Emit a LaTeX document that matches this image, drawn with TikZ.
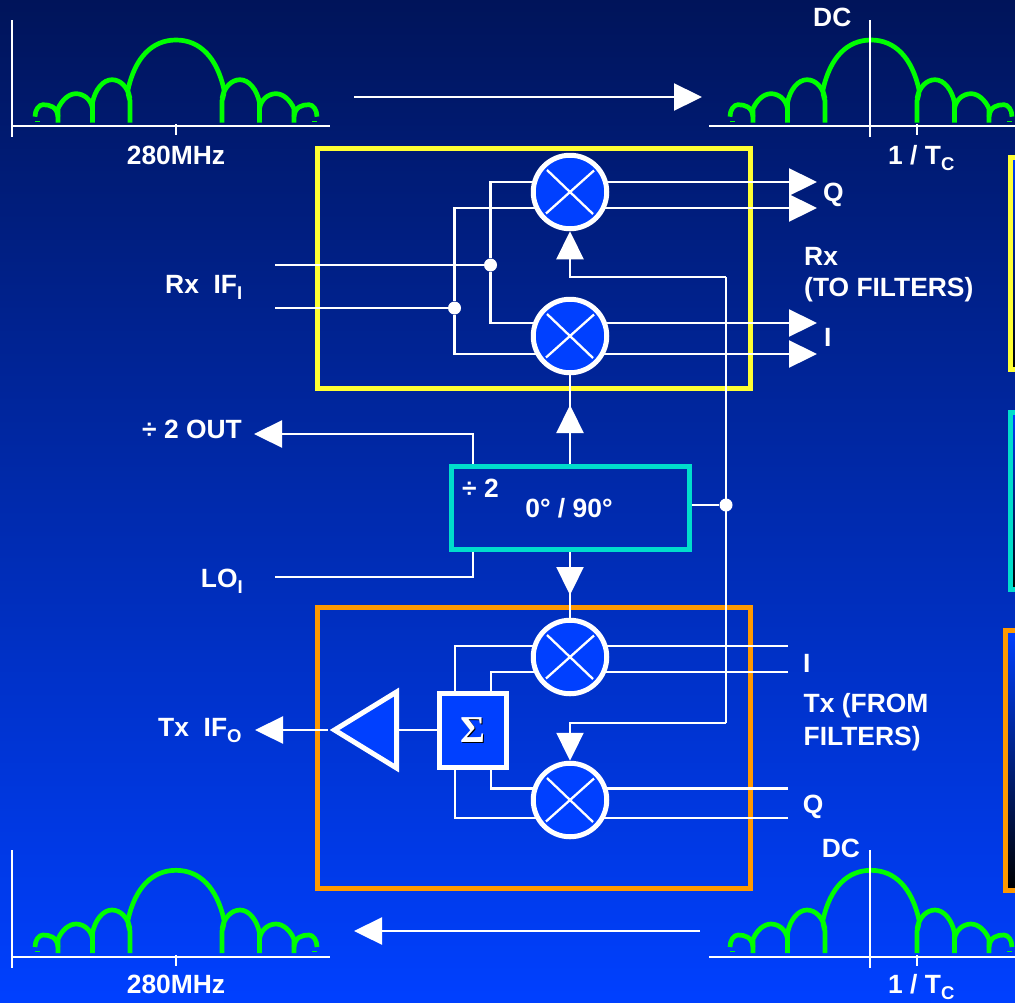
\documentclass[tikz,border=0pt]{standalone}
\usepackage{fontspec}
\setmainfont{Liberation Sans}
\newfontfamily\sigmafont{Liberation Serif}
\usetikzlibrary{arrows.meta,shapes.geometric,backgrounds}
\definecolor{bgtop}{HTML}{00145A}
\definecolor{bgbot}{HTML}{0040FF}
\definecolor{mixblue}{HTML}{0040FF}
\definecolor{fyellow}{HTML}{FFFF33}
\definecolor{forange}{HTML}{FF9900}
\definecolor{fcyan}{HTML}{00DDCC}
\definecolor{specgreen}{HTML}{00FF00}
\tikzset{
  wire/.style={draw=white,line width=2.3pt},
  arr/.style={wire,-{Triangle[length=28pt,width=27pt]}},
  frame/.style={draw=#1,line width=5pt,inner sep=0pt,fill=none,rectangle},
  mixer/.style={circle,draw=white,fill=mixblue,line width=5pt,minimum size=73.5pt,inner sep=0pt,
    path picture={
      \draw[white,line width=2.3pt] ([shift={(-23,-22)}]path picture bounding box.center) -- ([shift={(23,22)}]path picture bounding box.center);
      \draw[white,line width=2.3pt] ([shift={(24,-21.5)}]path picture bounding box.center) -- ([shift={(-24,21.5)}]path picture bounding box.center);
    }},
  jdot/.style={circle,fill=white,minimum size=13pt,inner sep=0pt},
  lab/.style={text=white,inner sep=0pt,anchor=base west,font=\fontsize{26.4}{32}\selectfont\bfseries},
  labc/.style={lab,anchor=base},
  spec/.style={draw=specgreen,line width=4.7pt,line join=round},
  axis/.style={draw=white,line width=2.3pt},
}
\newcommand{\sbs}[1]{\raisebox{-6.5pt}{\fontsize{18.5}{19}\selectfont #1}}
\newcommand{\spectrumhalf}{%
  \draw[spec] (-46,0) -- (-46,-22) .. controls (-48,-28) and (-48,-30) .. (-48,-33)
     .. controls (-41,-65) and (-24,-82.7) .. (0,-82.7);
  \draw[spec] (-83.5,0) -- (-83.5,-20) .. controls (-81,-33) and (-73,-43) .. (-64,-43)
     .. controls (-56,-43) and (-48,-36) .. (-46,-24);
  \draw[spec] (-118,0) -- (-118,-14) .. controls (-114,-23) and (-107,-29) .. (-100,-29)
     .. controls (-93,-29) and (-85,-24) .. (-83.5,-14);
  \draw[spec] (-141,-6) .. controls (-141,-13) and (-137,-18) .. (-133,-18)
     .. controls (-126,-18) and (-119,-16) .. (-118,-6);
  \draw[draw=specgreen,line width=1pt] (-141,-1.7) -- (-136,-1.7);
}
\newcommand{\spectrum}[2]{%
  \begin{scope}[shift={(#1,#2)}]\spectrumhalf\end{scope}%
  \begin{scope}[shift={(#1,#2)},xscale=-1]\spectrumhalf\end{scope}%
}
\begin{document}
\begin{tikzpicture}[x=1pt,y=-1pt]
\useasboundingbox (0,0) rectangle (1015,1002);

% main-layer nodes
\node[mixer] (m1) at (570,192) {};
\node[mixer] (m2) at (570,336) {};
\node[mixer] (m3) at (570,657) {};
\node[mixer] (m4) at (570,800) {};
\node[rectangle,draw=white,fill=mixblue,line width=5pt,minimum width=67pt,minimum height=74pt,inner sep=0pt] (sum) at (473,730.5)
  {\fontsize{38}{38}\selectfont\sigmafont\bfseries\textcolor{white}{\rlap{\kern1pt\raisebox{-1pt}{\textcolor{black}{Σ}}}Σ}};
\node[isosceles triangle,isosceles triangle stretches,shape border rotate=180,draw=white,fill=mixblue,
  line width=5pt,minimum width=76pt,minimum height=62pt,inner sep=0pt,anchor=apex] (amp) at (328,730) {};
\node[jdot] (dotA) at (490.5,265) {};
\node[jdot] (dotB) at (454.5,308) {};
\node[jdot] (dotC) at (726,505) {};

\coordinate (inA) at (275,265);
\coordinate (inB) at (275,308);
\coordinate (inLO) at (275,577);
\coordinate (tQa) at (817,182);
\coordinate (tQb) at (817,208);
\coordinate (tIa) at (817,323);
\coordinate (tIb) at (817,354);
\coordinate (fU) at (726,277);
\coordinate (fD) at (726,723);
\coordinate (upTip) at (570,405);
\coordinate (dnTip) at (570,595);
\coordinate (oT) at (473,434);
\coordinate (tipOut) at (254,434);
\coordinate (tipTx) at (255,730);
\coordinate (cIa) at (788,646);
\coordinate (cIb) at (788,672);
\coordinate (cQa) at (788,788.5);
\coordinate (cQb) at (788,818);
\coordinate (xa) at (455,730);
\coordinate (xb) at (491,730);
\coordinate (spTopA) at (354,97);
\coordinate (spTopB) at (702,97);
\coordinate (spBotA) at (700,931);
\coordinate (spBotB) at (354,931);

\begin{scope}[on background layer]
  \shade[top color=bgtop,bottom color=bgbot] (0,0) rectangle (1015,1002);
  % frames
  \node[frame=fyellow,minimum width=433pt,minimum height=240pt] (rxbox) at (533.5,268.5) {};
  \node[frame=forange,minimum width=433pt,minimum height=281pt] (txbox) at (533.5,747.5) {};
  % partially visible panels at the right edge
  \begin{scope}
    \clip (0,0) rectangle (1015,1002);
    \shade[top color=mixblue,bottom color=black] (1010.5,157) rectangle (1040,369.5);
    \draw[fyellow,line width=5pt] (1010.5,157) rectangle (1040,369.5);
    \shade[top color=mixblue,bottom color=black] (1010.5,412.5) rectangle (1040,589);
    \draw[fcyan,line width=5pt] (1010.5,412.5) rectangle (1040,589);
    \shade[top color=mixblue,bottom color=black] (1005.5,630.5) rectangle (1040,890);
    \draw[forange,line width=5pt] (1005.5,630.5) rectangle (1040,890);
  \end{scope}
  \node[frame=fcyan,minimum width=238pt,minimum height=83.5pt] (div) at (570,507.75) {};
  % wires
  \draw[wire] (inA) -- (dotA);
  \draw[wire] (inB) -- (dotB);
  \draw[wire] (m1 |- tQa) -| (dotA) |- (m2 |- tIa);
  \draw[wire] (m1 |- tQb) -| (dotB) |- (m2 |- tIb);
  \draw[arr] (m1 |- tQa) -- (tQa);
  \draw[arr] (m1 |- tQb) -- (tQb);
  \draw[arr] (m2 |- tIa) -- (tIa);
  \draw[arr] (m2 |- tIb) -- (tIb);
  \draw[wire] (fU) -- (fD);
  \draw[wire] (div.east |- dotC) -- (dotC);
  \draw[arr] (fU) -- (fU -| m1) -- (m1.south);
  \draw[arr] (fD) -- (fD -| m4) -- (m4.north);
  \draw[wire] (div.north) -- (m2.south);
  \draw[arr] (div.north) -- (upTip);
  \draw[wire] (div.south) -- (m3.north);
  \draw[arr] (div.south) -- (dnTip);
  \draw[arr] (oT |- div.north) -- (oT) -- (tipOut);
  \draw[wire] (inLO) -| (oT |- div.south);
  \draw[wire] (cIa) -- (xa |- cIa) -- (xa |- sum.north);
  \draw[wire] (cIb) -- (xb |- cIb) -- (xb |- sum.north);
  \draw[wire] (cQa) -- (xb |- cQa) -- (xb |- sum.south);
  \draw[wire] (cQb) -- (xa |- cQb) -- (xa |- sum.south);
  \draw[wire] (sum.west |- amp) -- (amp);
  \draw[arr] (amp.apex) -- (tipTx);
  \draw[arr] (spTopA) -- (spTopB);
  \draw[arr] (spBotA) -- (spBotB);
\end{scope}

% spectra
\spectrum{176}{122.7}
\spectrum{871}{122.7}
\spectrum{176}{953}
\spectrum{871}{953}
\draw[axis] (12,20) -- (12,137);
\draw[axis] (13,126) -- (330,126);
\draw[axis] (176,124) -- (176,135);
\draw[axis] (870,20) -- (870,137);
\draw[axis] (709,126) -- (1015,126);
\draw[axis] (917,124) -- (917,135);
\draw[axis] (12,850) -- (12,968);
\draw[axis] (13,957) -- (330,957);
\draw[axis] (176,955) -- (176,966);
\draw[axis] (870,850) -- (870,968);
\draw[axis] (709,957) -- (1015,957);
\draw[axis] (917,955) -- (917,966);

% labels
\node[labc] (l280a) at (176,164) {280MHz};
\node[labc] (l280b) at (176,993) {280MHz};
\node[lab] (ldca) at (813,26.7) {DC};
\node[lab] (ldcb) at (821.7,857.7) {DC};
\node[lab] (ltca) at (888,164) {1 / T\sbs{C}};
\node[lab] (ltcb) at (888,993) {1 / T\sbs{C}};
\node[lab] (lq) at (823,201.7) {Q};
\node[lab] (lrx) at (804,265) {Rx};
\node[lab] (lto) at (804,296) {(TO FILTERS)};
\node[lab] (li) at (824,346.7) {I};
\node[lab] (lrxif) at (165,293.3) {Rx\ \ IF\sbs{I}};
\node[lab] (ldiv) at (142,438) {÷ 2 OUT};
\node[lab] (ldivb) at (462,497) {÷ 2};
\node[labc] (lph) at (569,517.7) {0° / 90°};
\node[lab] (llo) at (200.7,587) {LO\sbs{I}};
\node[lab] (ltxif) at (158,736) {Tx\ \ IF\sbs{O}};
\node[lab] (li2) at (803,672.7) {I};
\node[lab] (ltx) at (803.5,712.7) {Tx (FROM};
\node[lab] (lfil) at (803.5,745) {FILTERS)};
\node[lab] (lq2) at (802.7,813) {Q};
\end{tikzpicture}
\end{document}
